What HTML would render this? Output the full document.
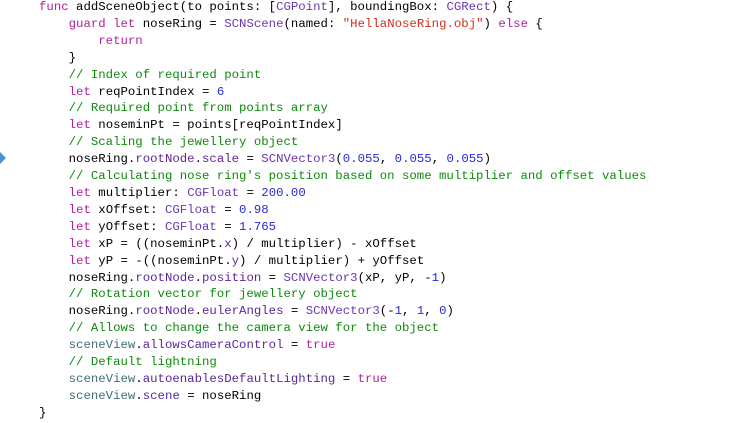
<!DOCTYPE html>
<html><head><meta charset="utf-8"><style>
html,body{margin:0;padding:0;background:#fff;width:744px;height:423px;overflow:hidden}
pre{position:absolute;left:39px;top:-1px;margin:0;font-family:"Liberation Mono",monospace;font-size:12.35px;line-height:16.9px;color:#000}
.k{color:#B0219A}.t{color:#6A36B0}.s{color:#D12F1B}.n{color:#272AD8}.c{color:#0E8A0E}.p{color:#5C2699}.v{color:#3F6E74}
.mark{position:absolute;left:0;top:152px;width:0;height:0;border-top:6px solid transparent;border-bottom:6px solid transparent;border-left:6px solid #4A90D9}
</style></head><body>
<div class="mark"></div>
<pre><span class="k">func</span> addSceneObject(to points: [<span class="t">CGPoint</span>], boundingBox: <span class="t">CGRect</span>) {
    <span class="k">guard</span> <span class="k">let</span> noseRing = <span class="t">SCNScene</span>(named: <span class="s">"HellaNoseRing.obj"</span>) <span class="k">else</span> {
        <span class="k">return</span>
    }
    <span class="c">// Index of required point</span>
    <span class="k">let</span> reqPointIndex = <span class="n">6</span>
    <span class="c">// Required point from points array</span>
    <span class="k">let</span> noseminPt = points[reqPointIndex]
    <span class="c">// Scaling the jewellery object</span>
    noseRing.<span class="p">rootNode</span>.<span class="p">scale</span> = <span class="t">SCNVector3</span>(<span class="n">0.055</span>, <span class="n">0.055</span>, <span class="n">0.055</span>)
    <span class="c">// Calculating nose ring's position based on some multiplier and offset values</span>
    <span class="k">let</span> multiplier: <span class="t">CGFloat</span> = <span class="n">200.00</span>
    <span class="k">let</span> xOffset: <span class="t">CGFloat</span> = <span class="n">0.98</span>
    <span class="k">let</span> yOffset: <span class="t">CGFloat</span> = <span class="n">1.765</span>
    <span class="k">let</span> xP = ((noseminPt.<span class="p">x</span>) / multiplier) - xOffset
    <span class="k">let</span> yP = -((noseminPt.<span class="p">y</span>) / multiplier) + yOffset
    noseRing.<span class="p">rootNode</span>.<span class="p">position</span> = <span class="t">SCNVector3</span>(xP, yP, -<span class="n">1</span>)
    <span class="c">// Rotation vector for jewellery object</span>
    noseRing.<span class="p">rootNode</span>.<span class="p">eulerAngles</span> = <span class="t">SCNVector3</span>(-<span class="n">1</span>, <span class="n">1</span>, <span class="n">0</span>)
    <span class="c">// Allows to change the camera view for the object</span>
    <span class="v">sceneView</span>.<span class="p">allowsCameraControl</span> = <span class="k">true</span>
    <span class="c">// Default lightning</span>
    <span class="v">sceneView</span>.<span class="p">autoenablesDefaultLighting</span> = <span class="k">true</span>
    <span class="v">sceneView</span>.<span class="p">scene</span> = noseRing
}</pre>
</body></html>
